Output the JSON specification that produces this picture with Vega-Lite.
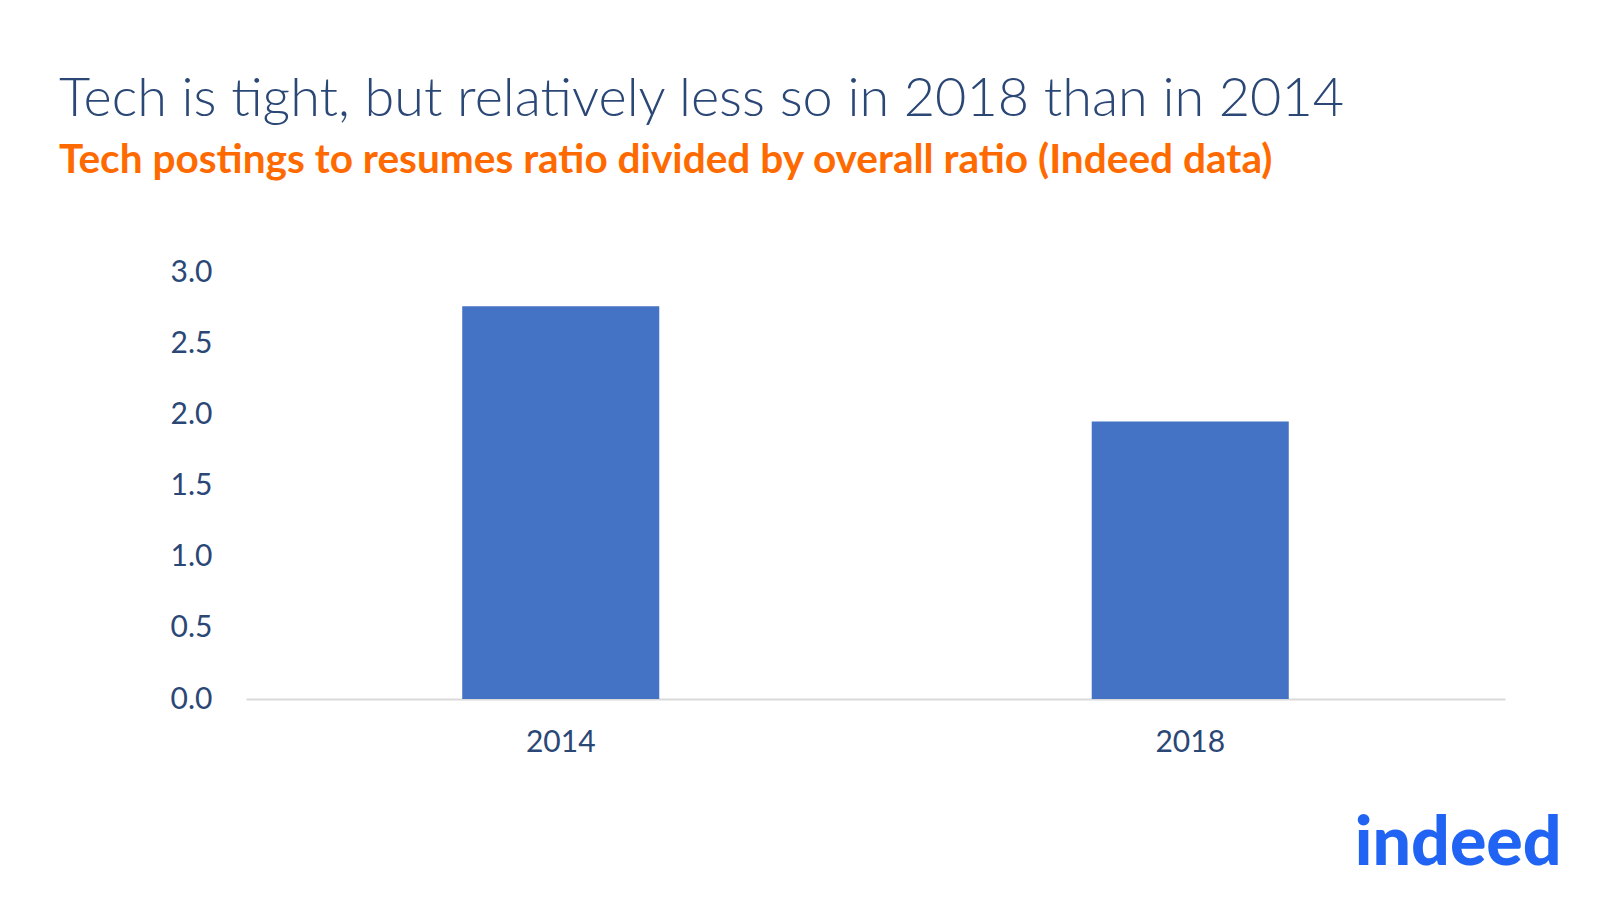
{
  "$schema": "https://vega.github.io/schema/vega-lite/v6.json",
  "width": 1259,
  "height": 427,
  "autosize": "none",
  "padding": {"left": 246, "top": 272, "right": 97, "bottom": 200},
  "background": "white",
  "config": {"view": {"stroke": null}},
  "title": {
    "text": "Tech is tight, but relatively less so in 2018 than in 2014",
    "subtitle": "Tech postings to resumes ratio divided by overall ratio (Indeed data)",
    "anchor": "start",
    "frame": "group",
    "dx": -187,
    "offset": 75,
    "font": "Lato",
    "fontSize": 54,
    "fontWeight": 300,
    "color": "#2B4776",
    "subtitleFont": "Lato",
    "subtitleFontSize": 40.6,
    "subtitleFontWeight": "bold",
    "subtitleColor": "#FF6A00",
    "subtitlePadding": 14
  },
  "data": {"values": [{"year": "2014", "ratio": 2.76}, {"year": "2018", "ratio": 1.95}]},
  "layer": [
    {
      "mark": {"type": "bar", "color": "#4472C4"},
      "encoding": {
        "x": {
          "field": "year",
          "type": "nominal",
          "scale": {"paddingInner": 0.687, "paddingOuter": 0.3435},
          "axis": {
            "title": null,
            "domain": true,
            "domainColor": "#D9D9D9",
            "domainWidth": 2,
            "ticks": false,
            "labelAngle": 0,
            "labelFont": "Lato",
            "labelFontSize": 30,
            "labelColor": "#2B4776",
            "labelPadding": 28
          }
        },
        "y": {
          "field": "ratio",
          "type": "quantitative",
          "scale": {"domain": [0, 3]},
          "axis": {
            "title": null,
            "domain": false,
            "ticks": false,
            "grid": false,
            "values": [0, 0.5, 1, 1.5, 2, 2.5, 3],
            "format": ".1f",
            "labelFont": "Lato",
            "labelFontSize": 30,
            "labelColor": "#2B4776",
            "labelPadding": 34
          }
        }
      }
    },
    {
      "data": {"values": [{"logo": "indeed"}]},
      "mark": {
        "type": "text",
        "font": "Lato",
        "fontWeight": 900,
        "fontSize": 68,
        "color": "#2164F3",
        "align": "center",
        "baseline": "alphabetic",
        "dx": 268,
        "dy": 166
      },
      "encoding": {
        "x": {"datum": "2018"},
        "y": {"datum": 0},
        "text": {"field": "logo"}
      }
    }
  ]
}
